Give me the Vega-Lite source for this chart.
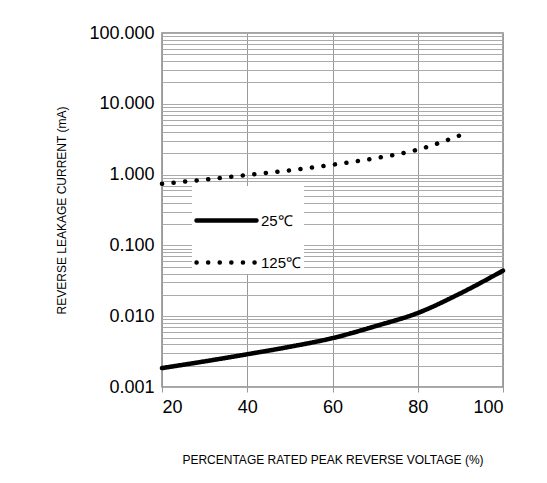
{
  "$schema": "https://vega.github.io/schema/vega-lite/v6.json",
  "autosize": "none",
  "width": 341,
  "height": 354,
  "padding": {"left": 162, "top": 33, "right": 44, "bottom": 96},
  "background": "white",
  "config": {
    "font": "Liberation Sans",
    "view": {"stroke": "#888888", "strokeWidth": 1.5}
  },
  "data": {
    "values": [
      {"pct": 20, "mA": 0.00185, "temp": "25℃"},
      {"pct": 30, "mA": 0.0023, "temp": "25℃"},
      {"pct": 40, "mA": 0.0029, "temp": "25℃"},
      {"pct": 50, "mA": 0.0037, "temp": "25℃"},
      {"pct": 60, "mA": 0.0049, "temp": "25℃"},
      {"pct": 70, "mA": 0.0072, "temp": "25℃"},
      {"pct": 80, "mA": 0.0111, "temp": "25℃"},
      {"pct": 90, "mA": 0.021, "temp": "25℃"},
      {"pct": 100, "mA": 0.044, "temp": "25℃"},
      {"pct": 20, "mA": 0.74, "temp": "125℃"},
      {"pct": 30, "mA": 0.85, "temp": "125℃"},
      {"pct": 40, "mA": 0.99, "temp": "125℃"},
      {"pct": 50, "mA": 1.15, "temp": "125℃"},
      {"pct": 60, "mA": 1.38, "temp": "125℃"},
      {"pct": 70, "mA": 1.7, "temp": "125℃"},
      {"pct": 80, "mA": 2.25, "temp": "125℃"},
      {"pct": 90, "mA": 3.6, "temp": "125℃"}
    ]
  },
  "encoding": {
    "x": {
      "field": "pct",
      "type": "quantitative",
      "scale": {"domain": [20, 100], "nice": false, "zero": false}
    },
    "y": {
      "field": "mA",
      "type": "quantitative",
      "scale": {"type": "log", "domain": [0.001, 100], "nice": false}
    }
  },
  "layer": [
    {
      "mark": {"type": "line", "interpolate": "monotone", "strokeCap": "round"},
      "encoding": {
        "x": {
          "field": "pct",
          "type": "quantitative",
          "axis": {
            "values": [20, 40, 60, 80, 100],
            "title": "PERCENTAGE RATED PEAK REVERSE VOLTAGE (%)",
            "titleFontSize": 12,
            "titleFontWeight": "normal",
            "titlePadding": 38,
            "labelFontSize": 18,
            "labelPadding": 6,
            "labelColor": "black",
            "titleColor": "black",
            "gridColor": "#999999",
            "gridOpacity": 1,
            "tickColor": "#999999",
            "domain": false
          }
        },
        "y": {
          "field": "mA",
          "type": "quantitative",
          "axis": {
            "values": [0.001, 0.002, 0.003, 0.004, 0.005, 0.006, 0.007, 0.008, 0.009, 0.01, 0.02, 0.03, 0.04, 0.05, 0.06, 0.07, 0.08, 0.09, 0.1, 0.2, 0.3, 0.4, 0.5, 0.6, 0.7, 0.8, 0.9, 1, 2, 3, 4, 5, 6, 7, 8, 9, 10, 20, 30, 40, 50, 60, 70, 80, 90, 100],
            "labelExpr": "indexof([0.001,0.01,0.1,1,10,100], datum.value) >= 0 ? format(datum.value, '.3f') : ''",
            "tickSize": 0,
            "title": "REVERSE LEAKAGE CURRENT (mA)",
            "titleFontSize": 12,
            "titleFontWeight": "normal",
            "titlePadding": 20,
            "labelFontSize": 18,
            "labelPadding": 8,
            "labelColor": "black",
            "titleColor": "black",
            "gridColor": "#aaaaaa",
            "gridOpacity": 1,
            "domain": false
          }
        },
        "strokeDash": {
          "field": "temp",
          "type": "nominal",
          "scale": {"domain": ["25℃", "125℃"], "range": [[1, 0], [0.1, 11.5]]},
          "legend": {
            "orient": "none",
            "legendX": 30,
            "legendY": 153,
            "title": null,
            "fillColor": "white",
            "padding": 2,
            "symbolType": "stroke",
            "symbolSize": 3600,
            "symbolStrokeWidth": 4.5,
            "symbolStrokeColor": "black",
            "labelFontSize": 15,
            "labelColor": "black",
            "rowPadding": -26,
            "labelOffset": 2,
            "labelLimit": 200,
            "encode": {"symbols": {"update": {"strokeCap": {"value": "round"}}}}
          }
        },
        "color": {"value": "black"},
        "strokeWidth": {"value": 4.5}
      }
    }
  ]
}
